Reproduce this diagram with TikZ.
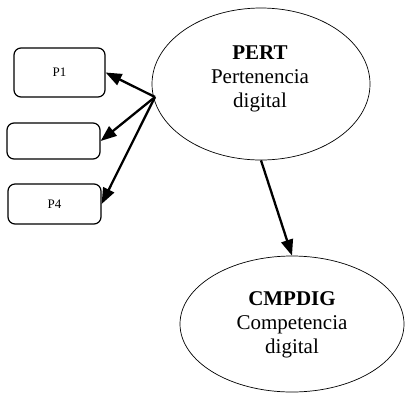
\documentclass[tikz,border=0pt]{standalone}
\usepackage{fontspec}
\setmainfont{Liberation Serif}
\usetikzlibrary{shapes.geometric,arrows.meta}
\begin{document}
\begin{tikzpicture}[x=1pt,y=-1pt,
  itembox/.style={draw,rounded corners=7pt,line width=1.2pt,inner sep=0pt,
    font=\fontsize{13}{15}\selectfont},
  construct/.style={draw,ellipse,line width=0.7pt,inner sep=0pt},
  ctext/.style={align=center,inner sep=0pt,anchor=north,
    font=\fontsize{21}{24}\selectfont},
  link/.style={line width=2.3pt,-{Triangle[length=16pt,width=12pt]}}]
\useasboundingbox (0,0) rectangle (406,392);
% item boxes
\node[itembox,minimum width=91pt,minimum height=49pt] (p1) at (59.5,72.5) {P1};
\node[itembox,minimum width=93pt,minimum height=36pt] (p2) at (53.5,141) {};
\node[itembox,minimum width=93pt,minimum height=40pt] (p4) at (54.5,204) {P4};
% constructs
\node[construct,minimum width=218pt,minimum height=152pt] (pert) at (261,84) {};
\node[ctext] (pertlbl) at (260,46) {\textbf{PERT}\\Pertenencia\\digital};
\node[construct,minimum width=224pt,minimum height=136pt] (cmp) at (292,324) {};
\node[ctext] (cmplbl) at (292,291) {\textbf{CMPDIG}\\Competencia\\digital};
% links from the PERT construct to its items and to CMPDIG
\coordinate (src) at (155,97);
\draw[link] (src) -- (p1.east);
\draw[link] (src) -- (p2.east);
\draw[link] (src) -- (p4.east);
\draw[link] (pert.south) -- (cmp.north);
\end{tikzpicture}
\end{document}
